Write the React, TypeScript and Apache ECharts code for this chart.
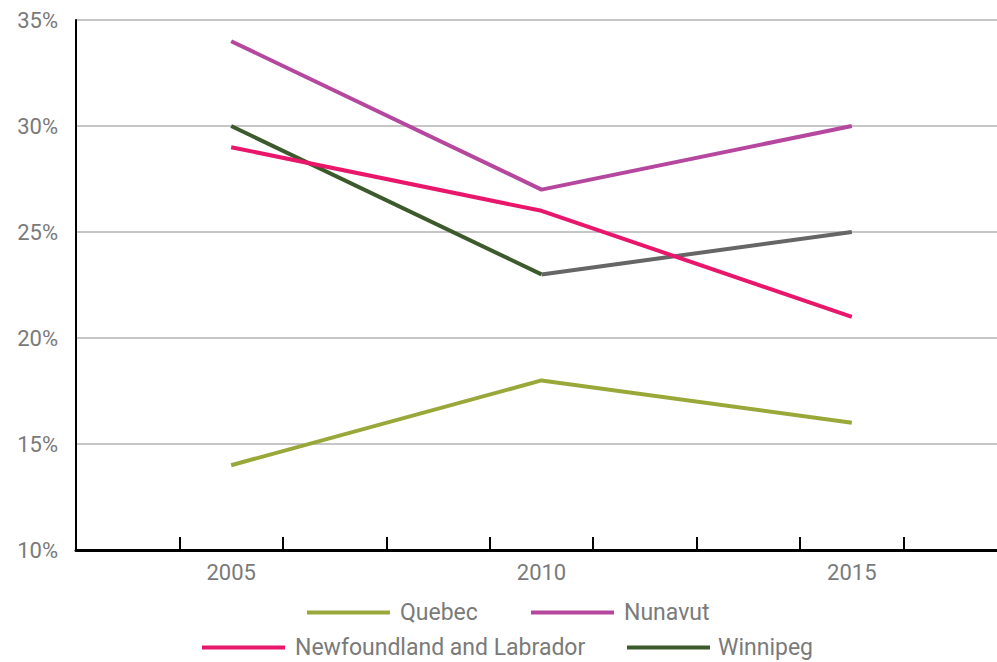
import React, { useEffect, useRef } from "react";
import * as echarts from "echarts";

// 9 category slots; labelled years sit at slots 1, 4, 7
const slots = ["2004", "2005", "2006", "2008", "2010", "2011", "2013", "2015", "2016"];
const labelledYears = ["2005", "2010", "2015"];
const yearSlot = [1, 4, 7];

const quebec = [14, 18, 16];
const nunavut = [34, 27, 30];
const newfoundland = [29, 26, 21];
const winnipeg = [30, 23, 25];

const colors = {
  quebec: "#9aa83a",
  nunavut: "#b5479f",
  newfoundland: "#e9176b",
  winnipeg: "#3d5a2c",
  gray: "#666666",
};

function toSlots(vals: number[], use: number[] = [0, 1, 2]) {
  const arr: (number | null)[] = slots.map(() => null);
  use.forEach((i) => {
    arr[yearSlot[i]] = vals[i];
  });
  return arr;
}

const font = "Roboto";
const textColor = "#7a7a7a";

export default function App() {
  const ref = useRef<HTMLDivElement>(null);
  useEffect(() => {
    if (!ref.current) return;
    const chart = echarts.init(ref.current, undefined, { renderer: "svg" });
    const legendCommon = {
      itemWidth: 83,
      itemHeight: 4,
      icon: "rect",
      padding: 0,
      textStyle: { fontFamily: font, fontSize: 23, color: textColor, padding: [0, 0, 0, 5] },
      selectedMode: false,
    };
    const lineSeries = (name: string, data: (number | null)[], color: string) => ({
      name,
      type: "line",
      data,
      connectNulls: true,
      showSymbol: false,
      symbol: "none",
      lineStyle: { width: 4, color },
      itemStyle: { color },
    });
    chart.setOption({
      animation: false,
      grid: { left: 76, top: 20, right: 0, bottom: 112, containLabel: false },
      legend: [
        { ...legendCommon, data: ["Quebec"], left: 307, top: 601 },
        { ...legendCommon, data: ["Nunavut"], left: 531, top: 601 },
        { ...legendCommon, data: ["Newfoundland and Labrador"], left: 202, top: 636 },
        { ...legendCommon, data: ["Winnipeg"], left: 627, top: 636, textStyle: { ...legendCommon.textStyle, padding: [0, 0, 0, 3] } },
      ],
      xAxis: {
        type: "category",
        data: slots,
        boundaryGap: true,
        axisLine: { lineStyle: { color: "#000", width: 3 } },
        axisTick: { show: true, inside: true, length: 13, interval: 0, lineStyle: { color: "#000", width: 2 } },
        axisLabel: {
          interval: 0,
          margin: 11,
          fontFamily: font,
          fontSize: 22,
          color: textColor,
          formatter: (v: string) => (labelledYears.includes(v) ? v : ""),
        },
        splitLine: { show: false },
      },
      yAxis: {
        type: "value",
        min: 10,
        max: 35,
        interval: 5,
        axisLine: { show: true, lineStyle: { color: "#000", width: 2 } },
        axisTick: { show: false },
        axisLabel: {
          formatter: "{value}%",
          margin: 18,
          fontFamily: font,
          fontSize: 22,
          color: textColor,
        },
        splitLine: { lineStyle: { color: "#c6c6c6", width: 2 } },
      },
      series: [
        lineSeries("Quebec", toSlots(quebec), colors.quebec),
        lineSeries("Nunavut", toSlots(nunavut), colors.nunavut),
        lineSeries("Winnipeg", toSlots(winnipeg, [0, 1]), colors.winnipeg),
        lineSeries("Winnipeg (2010–2015)", toSlots(winnipeg, [1, 2]), colors.gray),
        lineSeries("Newfoundland and Labrador", toSlots(newfoundland), colors.newfoundland),
      ],
    });
    return () => chart.dispose();
  }, []);
  return (
    <div
      ref={ref}
      style={{ position: "fixed", left: 0, top: 0, width: 1007, height: 662, background: "#fff" }}
    />
  );
}
